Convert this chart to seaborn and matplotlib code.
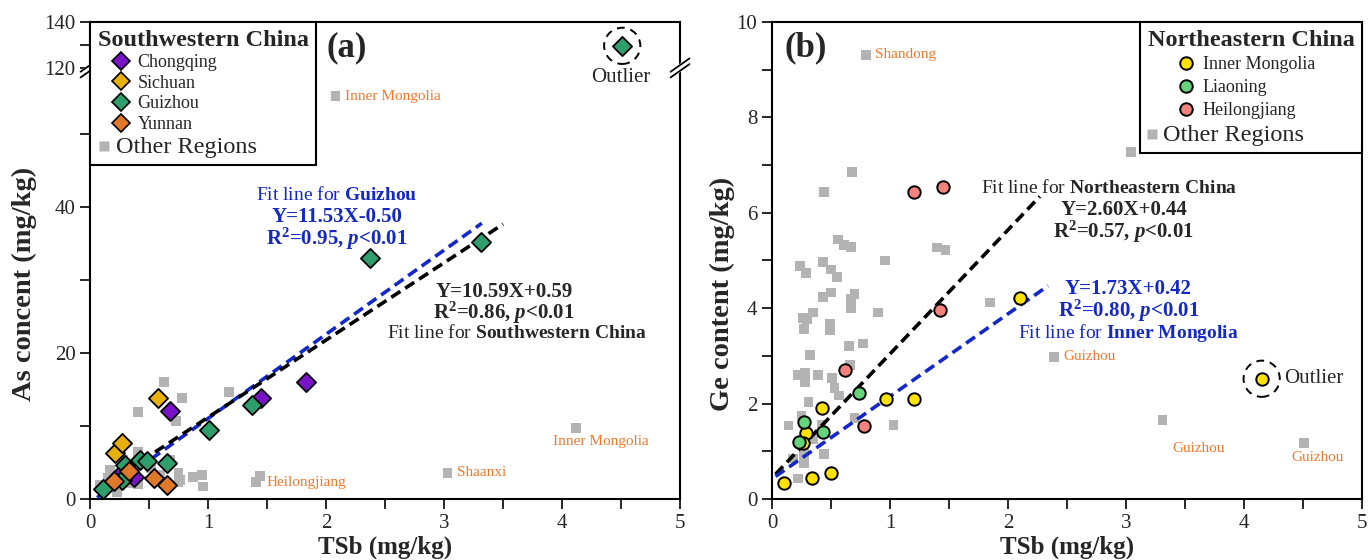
import numpy as np
import matplotlib.pyplot as plt
import seaborn as sns
from matplotlib.lines import Line2D
from matplotlib.legend_handler import HandlerLine2D

# ---------------- panel (a): TSb vs As, Southwestern China ----------------
cq_x = [0.25, 0.37, 0.68, 1.45, 1.83]
cq_y = [3.3, 3.0, 12.0, 13.9, 16.0]
sc_x = [0.21, 0.27, 0.58]
sc_y = [6.3, 7.6, 13.9]
gz_x = [0.11, 0.27, 0.30, 0.42, 0.48, 0.65, 1.01, 1.37, 2.37, 3.31, 4.51]
gz_y = [1.4, 2.6, 4.7, 5.3, 5.2, 4.9, 9.4, 12.9, 33.0, 35.2, 129.6]
yn_x = [0.20, 0.33, 0.54, 0.65]
yn_y = [2.5, 3.8, 2.9, 1.9]

oth_a_x = [0.63, 0.41, 0.73, 0.78, 1.18, 0.17, 0.41, 0.68, 0.75, 0.87, 0.95, 0.96, 0.08,
           0.23, 0.41, 0.59, 0.75, 0.15, 0.28, 0.47, 0.33, 0.52, 0.12, 0.57, 0.76, 1.44]
oth_a_y = [16.0, 11.9, 10.7, 13.8, 14.7, 4.0, 6.4, 5.3, 3.6, 3.0, 3.3, 1.7, 1.9,
           1.0, 2.1, 3.3, 2.3, 2.9, 5.3, 5.3, 2.2, 4.2, 1.2, 2.5, 2.6, 3.2]
lab_a = ["Inner Mongolia", "Heilongjiang", "Shaanxi", "Inner Mongolia"]
lab_a_x = [2.08, 1.41, 3.03, 4.12]
lab_a_y = [55.2, 2.3, 3.6, 9.7]

# fit lines (a): Guizhou, Southwestern China
fit_a_k = [11.53, 10.59]
fit_a_b = [-0.50, 0.59]
fit_a_x0 = [0.06, 0.08]
fit_a_x1 = [3.32, 3.50]

# ---------------- panel (b): TSb vs Ge, Northeastern China ----------------
im_x = [0.10, 0.34, 0.50, 0.42, 0.29, 0.26, 0.97, 1.20, 2.10, 4.15]
im_y = [0.33, 0.43, 0.55, 1.90, 1.38, 1.17, 2.10, 2.09, 4.21, 2.52]
ln_x = [0.27, 0.23, 0.43, 0.74]
ln_y = [1.62, 1.20, 1.41, 2.22]
hl_x = [0.62, 0.78, 1.42, 1.20, 1.45]
hl_y = [2.70, 1.52, 3.96, 6.43, 6.55]

oth_b_x = [0.24, 0.29, 0.43, 0.50, 0.55, 0.96, 0.43, 0.50, 0.67, 0.70, 0.67, 0.90, 0.35,
           0.30, 0.26, 0.27, 0.49, 0.49, 0.65, 0.77, 0.32, 0.22, 0.28, 0.28, 0.39, 0.51,
           0.66, 0.53, 0.57, 0.31, 0.14, 0.25, 0.42, 0.70, 1.03, 0.35, 0.44, 0.27, 0.18,
           0.22, 0.27, 0.68, 0.44, 0.56, 0.61, 0.67, 1.40, 1.47, 1.85, 3.04]
oth_b_y = [4.89, 4.74, 4.96, 4.81, 4.65, 5.00, 4.23, 4.33, 4.19, 4.30, 4.00, 3.91, 3.91,
           3.77, 3.79, 3.56, 3.66, 3.53, 3.21, 3.26, 3.02, 2.60, 2.64, 2.44, 2.60, 2.53,
           2.81, 2.32, 2.17, 2.04, 1.54, 1.75, 1.55, 1.69, 1.55, 1.26, 0.94, 0.75, 0.85,
           0.43, 0.96, 6.86, 6.43, 5.44, 5.32, 5.28, 5.27, 5.22, 4.12, 7.27]
lab_b = ["Shandong", "Guizhou", "Guizhou", "Guizhou"]
lab_b_x = [0.80, 2.39, 3.31, 4.51]
lab_b_y = [9.31, 2.98, 1.66, 1.17]

# fit lines (b): Northeastern China, Inner Mongolia
fit_b_k = [2.60, 1.73]
fit_b_b = [0.44, 0.42]
fit_b_x0 = [0.03, 0.03]
fit_b_x1 = [2.27, 2.34]

sns.set_theme(style="ticks")
plt.rcParams['font.family'] = ['Liberation Serif', 'DejaVu Sans']
plt.rcParams['mathtext.fontset'] = 'custom'
plt.rcParams['mathtext.rm'] = 'Liberation Serif:bold'
plt.rcParams['mathtext.it'] = 'Liberation Serif:italic:bold'
plt.rcParams['mathtext.bf'] = 'Liberation Serif:bold'

gray = '#b3b3b3'
lab_col = '#f5762a'
blue = '#1428c8'
sw_cols = ['#7a12c8', '#e8b00c', '#2e9e6c', '#e0782a']
ne_cols = ['#ffe200', '#66d47a', '#f4837d']

fig = plt.figure(figsize=(13.68, 5.6), dpi=100)
ax1 = fig.add_axes([0.0658, 0.109, 0.4313, 0.8518])
ax2 = fig.add_axes([0.5643, 0.109, 0.4313, 0.8518])


# broken y axis for (a): 0-59 linear, then 120-140 squeezed on top
def fwd(v):
    v = np.asarray(v, float)
    return np.where(v <= 59, v, np.where(v < 120, 59 + (v - 59) * 0.001, 59.061 + (v - 120) * 0.315))


def inv(u):
    u = np.asarray(u, float)
    return np.where(u <= 59, u, np.where(u < 59.061, 59 + (u - 59) / 0.001, 120 + (u - 59.061) / 0.315))


ax1.set_yscale('function', functions=(fwd, inv))

# ---- draw (a)
sns.scatterplot(x=oth_a_x + lab_a_x, y=oth_a_y + lab_a_y, ax=ax1, marker='s', color=gray,
                edgecolor='none', s=50, zorder=2, legend=False)
for k, b, x0, x1, c in zip(fit_a_k, fit_a_b, fit_a_x0, fit_a_x1, [blue, 'black']):
    xs = np.array([x0, x1])
    ax1.plot(xs, k * xs + b, color=c, lw=2.6, dashes=(3, 1.6), zorder=3)
for xs, ys, c in zip([cq_x, sc_x, gz_x, yn_x], [cq_y, sc_y, gz_y, yn_y], sw_cols):
    sns.scatterplot(x=xs, y=ys, ax=ax1, marker='D', color=c, edgecolor='black',
                    linewidth=1.3, s=95, zorder=4, legend=False)
ax1.scatter([gz_x[-1]], [gz_y[-1]], s=680, facecolors='none', edgecolors='black',
            linewidths=1.4, linestyles=(0, (4, 3)), zorder=4)
ax1.annotate("Outlier", (gz_x[-1], gz_y[-1]), xytext=(-1, -23), textcoords='offset points',
             ha='center', va='center', fontsize=15)

offs_a = [(7, 0), (7, 0), (7, 0), (-17, -9.5)]
for t, x, y, o in zip(lab_a, lab_a_x, lab_a_y, offs_a):
    ax1.annotate(t, (x, y), xytext=o, textcoords='offset points', ha='left', va='center',
                 fontsize=11, color=lab_col)

ax1.text(2.09, 41.6, r"Fit line for $\mathbf{Guizhou}$", color=blue, ha='center', va='center', fontsize=14)
ax1.text(2.09, 38.6, "Y=11.53X-0.50", color=blue, ha='center', va='center', fontsize=15, fontweight='bold')
ax1.text(2.09, 35.6, r"R$^{2}$=0.95, $p$<0.01", color=blue, ha='center', va='center', fontsize=15, fontweight='bold')
ax1.text(3.51, 28.4, "Y=10.59X+0.59", ha='center', va='center', fontsize=15, fontweight='bold')
ax1.text(3.51, 25.5, r"R$^{2}$=0.86, $p$<0.01", ha='center', va='center', fontsize=15, fontweight='bold')
ax1.text(3.62, 22.7, r"Fit line for $\mathbf{Southwestern\ China}$", ha='center', va='center', fontsize=14)
ax1.text(0.40, 0.945, "(a)", transform=ax1.transAxes, ha='left', va='center', fontsize=25, fontweight='bold')

ax1.set_xlim(0, 5)
ax1.set_ylim(0, 140)
ax1.set_xticks([0, 1, 2, 3, 4, 5])
ax1.set_xticks([0.5, 1.5, 2.5, 3.5, 4.5], minor=True)
ax1.set_yticks([0, 20, 40, 120, 140])
ax1.set_yticks([10, 30, 50, 130], minor=True)
ax1.set_yticklabels(['0', '20', '40', '120', '140'])
ax1.set_ylabel("As concent (mg/kg)", fontsize=20.5, fontweight='bold')
ax1.yaxis.set_label_coords(-0.09, 0.45)

# break marks on both spines
yb = float(fwd(120)) / float(fwd(140))
for xe in [0, 1]:
    ax1.plot([xe - 0.012, xe + 0.012], [yb - 0.012, yb + 0.012], transform=ax1.transAxes,
             color='white', lw=5, clip_on=False, zorder=6)
    for d in [-0.006, 0.006]:
        ax1.plot([xe - 0.016, xe + 0.016], [yb + d - 0.014, yb + d + 0.014], transform=ax1.transAxes,
                 color='black', lw=1.3, clip_on=False, zorder=7)


def region_legend(ax, handles, title, loc, anchor, hlen, hpad, shift_in, shift_other, text_dx, lspace):
    hmap = {h: HandlerLine2D(xpad=shift_in) for h in handles[:-1]}
    hmap[handles[-1]] = HandlerLine2D(xpad=shift_other)
    lg = ax.legend(handles=handles, title=title, loc=loc, bbox_to_anchor=anchor, handler_map=hmap,
                   borderaxespad=0, frameon=True, fancybox=False, edgecolor='black', framealpha=1,
                   prop={'size': 13}, title_fontproperties={'weight': 'bold', 'size': 17.5},
                   alignment='left', handletextpad=hpad, labelspacing=lspace, borderpad=0.42,
                   handlelength=hlen)
    lg.get_frame().set_linewidth(1.5)
    lg.get_texts()[-1].set_fontsize(17.5)
    lg.get_texts()[-1].set_x(text_dx)
    lg.set_zorder(8)
    return lg


h_a = [Line2D([], [], marker='D', ls='none', mfc=c, mec='black', mew=1.2, ms=9.5, label=n)
       for c, n in zip(sw_cols, ["Chongqing", "Sichuan", "Guizhou", "Yunnan"])]
h_a.append(Line2D([], [], marker='s', ls='none', mfc=gray, mec='none', ms=7.5, label='Other Regions'))
region_legend(ax1, h_a, "Southwestern China", 'upper left', (0, 1), 1.78, 0.44, 0.78, -1.1, -22, 0.2)

# ---- draw (b)
sns.scatterplot(x=oth_b_x + lab_b_x, y=oth_b_y + lab_b_y, ax=ax2, marker='s', color=gray,
                edgecolor='none', s=50, zorder=2, legend=False)
for k, b, x0, x1, c in zip(fit_b_k, fit_b_b, fit_b_x0, fit_b_x1, ['black', blue]):
    xs = np.array([x0, x1])
    ax2.plot(xs, k * xs + b, color=c, lw=2.6, dashes=(3, 1.6), zorder=3)
for xs, ys, c in zip([im_x, ln_x, hl_x], [im_y, ln_y, hl_y], ne_cols):
    sns.scatterplot(x=xs, y=ys, ax=ax2, marker='o', color=c, edgecolor='black',
                    linewidth=1.4, s=80, zorder=4, legend=False)
ax2.scatter([im_x[-1]], [im_y[-1]], s=680, facecolors='none', edgecolors='black',
            linewidths=1.4, linestyles=(0, (4, 3)), zorder=4)
ax2.annotate("Outlier", (im_x[-1], im_y[-1]), xytext=(16.5, 0), textcoords='offset points',
             ha='left', va='center', fontsize=15)

offs_b = [(6.5, 0), (6.5, 0), (7, -21), (-9, -10)]
for t, x, y, o in zip(lab_b, lab_b_x, lab_b_y, offs_b):
    ax2.annotate(t, (x, y), xytext=o, textcoords='offset points', ha='left', va='center',
                 fontsize=11, color=lab_col)

ax2.text(2.86, 6.52, r"Fit line for $\mathbf{Northeastern\ China}$", ha='center', va='center', fontsize=14)
ax2.text(2.98, 6.06, "Y=2.60X+0.44", ha='center', va='center', fontsize=15, fontweight='bold')
ax2.text(2.98, 5.60, r"R$^{2}$=0.57, $p$<0.01", ha='center', va='center', fontsize=15, fontweight='bold')
ax2.text(3.02, 4.40, "Y=1.73X+0.42", color=blue, ha='center', va='center', fontsize=15, fontweight='bold')
ax2.text(3.02, 3.94, r"R$^{2}$=0.80, $p$<0.01", color=blue, ha='center', va='center', fontsize=15, fontweight='bold')
ax2.text(3.02, 3.48, r"Fit line for $\mathbf{Inner\ Mongolia}$", color=blue, ha='center', va='center', fontsize=14)
ax2.text(0.022, 0.945, "(b)", transform=ax2.transAxes, ha='left', va='center', fontsize=25, fontweight='bold')

ax2.set_xlim(0, 5)
ax2.set_ylim(0, 10)
ax2.set_xticks([0, 1, 2, 3, 4, 5])
ax2.set_xticks([0.5, 1.5, 2.5, 3.5, 4.5], minor=True)
ax2.set_yticks([0, 2, 4, 6, 8, 10])
ax2.set_yticks([1, 3, 5, 7, 9], minor=True)
ax2.set_ylabel("Ge content (mg/kg)", fontsize=20.5, fontweight='bold')
ax2.yaxis.set_label_coords(-0.062, 0.43)

h_b = [Line2D([], [], marker='o', ls='none', mfc=c, mec='black', mew=1.4, ms=9, label=n)
       for c, n in zip(ne_cols, ["Inner Mongolia", "Liaoning", "Heilongjiang"])]
h_b.append(Line2D([], [], marker='s', ls='none', mfc=gray, mec='none', ms=7.5, label='Other Regions'))
region_legend(ax2, h_b, "Northeastern China", 'upper right', (1, 1), 2.55, 0.5, 1.67, -2.0, -40, 0.32)

for ax in [ax1, ax2]:
    ax.set_xlabel("TSb (mg/kg)", fontsize=18, fontweight='bold', labelpad=2)
    ax.tick_params(which='both', direction='out', length=7, width=1.4, labelsize=15,
                   top=False, right=False)
    for sp in ax.spines.values():
        sp.set_linewidth(1.5)
        sp.set_color('black')

plt.savefig("out.png", dpi=100)
